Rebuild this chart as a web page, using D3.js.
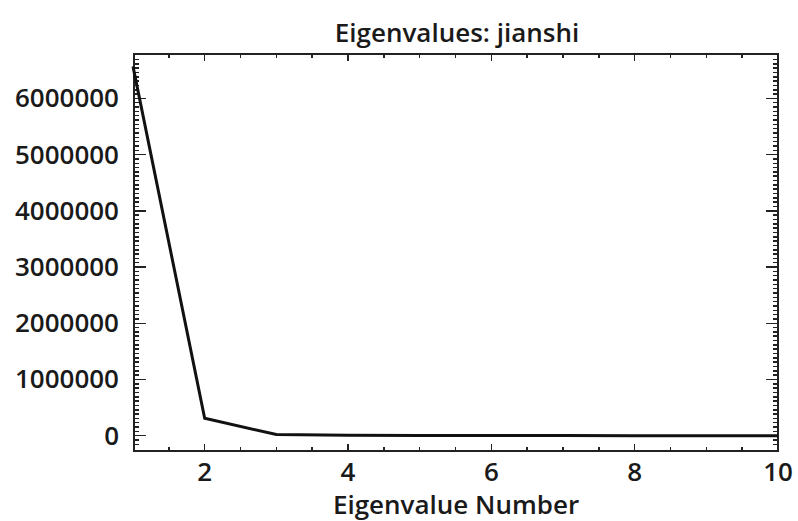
<!DOCTYPE html>
<html lang="en">
<head>
    <meta charset="UTF-8">
    <title>Eigenvalues: jianshi</title>
    <script src="https://d3js.org/d3.v7.min.js"></script>
    <style>
        body {margin: 0; background: white;}
        text {font-family: "Open Sans", sans-serif; fill: #1a1a1a; font-weight: 600;}
        .frame line, .frame rect {stroke: #222; shape-rendering: crispEdges;}
    </style>
</head>
<body>
<div id="chart"></div>
<script>

    // eigenvalue index and values
    var eigenNumber = [1, 2, 3, 4, 5, 6, 7, 8, 9, 10];
    var eigenValue = [6570000, 310000, 20000, 9000, 5000, 3000, 2000, 1200, 600, 200];
    var xTickLabels = [2, 4, 6, 8, 10];
    var yTickLabels = [0, 1000000, 2000000, 3000000, 4000000, 5000000, 6000000];

    var width = 798, height = 521;
    var margin = {top: 54, right: 20, bottom: 70, left: 133};

    var x = d3.scaleLinear()
        .domain([1, 10])
        .range([margin.left, 778]);

    var y = d3.scaleLinear()
        .domain([-272000, 6790000])
        .range([451, 54]);

    var svg = d3.select("#chart").append("svg")
        .attr("width", width)
        .attr("height", height);

    var frame = svg.append("g").attr("class", "frame");

    // minor/major ticks on all four sides, pointing inward
    var xMinor = d3.range(1.5, 10, 0.5).filter(function(d) {return xTickLabels.indexOf(d) < 0;});
    var yMinor = d3.range(-2, 88).map(function(i) {return i * 1000000 / 13;})
        .filter(function(d) {return d > y.domain()[0] && d < y.domain()[1];});

    function tickLines(data, len, horizontal) {
        var g = frame.append("g");
        data.forEach(function(d) {
            if (horizontal) {
                g.append("line").attr("x1", x(d)).attr("x2", x(d)).attr("y1", 451).attr("y2", 451 - len).attr("stroke-width", 1.5);
                g.append("line").attr("x1", x(d)).attr("x2", x(d)).attr("y1", 54).attr("y2", 54 + len).attr("stroke-width", 1.5);
            } else {
                g.append("line").attr("x1", 134).attr("x2", 134 + len).attr("y1", y(d)).attr("y2", y(d)).attr("stroke-width", 1.5);
                g.append("line").attr("x1", 778).attr("x2", 778 - len).attr("y1", y(d)).attr("y2", y(d)).attr("stroke-width", 1.5);
            }
        });
    }

    tickLines(xMinor, 4, true);
    tickLines(xTickLabels.filter(function(d) {return d < 10;}), 7, true);
    tickLines(yMinor, 5, false);
    tickLines(yTickLabels, 12, false);

    frame.append("rect")
        .attr("x", 134).attr("y", 54)
        .attr("width", 778 - 134).attr("height", 451 - 54)
        .attr("fill", "none")
        .attr("stroke-width", 2);

    // the eigenvalue curve
    var line = d3.line()
        .x(function(d, i) {return x(eigenNumber[i]);})
        .y(function(d) {return y(d);});

    svg.append("path")
        .datum(eigenValue)
        .attr("d", line)
        .attr("fill", "none")
        .attr("stroke", "#111")
        .attr("stroke-width", 3)
        .attr("stroke-linejoin", "miter");

    // tick labels
    svg.selectAll(".ylab")
        .data(yTickLabels)
        .enter().append("text")
        .attr("class", "ylab")
        .attr("x", 119)
        .attr("y", function(d) {return y(d) + 9;})
        .attr("text-anchor", "end")
        .attr("font-size", 26)
        .text(function(d) {return d;});

    svg.selectAll(".xlab")
        .data(xTickLabels)
        .enter().append("text")
        .attr("class", "xlab")
        .attr("x", function(d) {return x(d);})
        .attr("y", 481)
        .attr("text-anchor", "middle")
        .attr("font-size", 26)
        .text(function(d) {return d;});

    svg.append("text")
        .attr("x", 456)
        .attr("y", 514)
        .attr("text-anchor", "middle")
        .attr("font-size", 26)
        .text("Eigenvalue Number");

    svg.append("text")
        .attr("x", 457)
        .attr("y", 42)
        .attr("text-anchor", "middle")
        .attr("font-size", 26)
        .text("Eigenvalues: jianshi");

</script>
</body>
</html>
